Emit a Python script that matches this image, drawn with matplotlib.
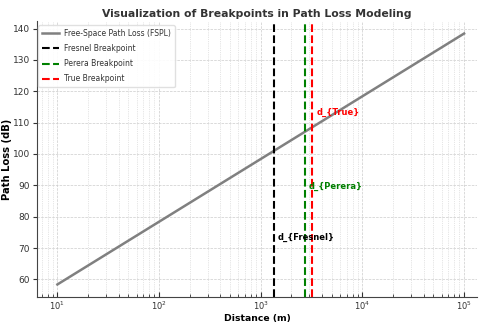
import matplotlib
matplotlib.use("Agg")
import matplotlib.pyplot as plt

# free-space path loss at each decade of distance
distance = [10, 100, 1000, 10000, 100000]
fspl = [58.4, 78.4, 98.4, 118.4, 138.4]

# breakpoints (m)
bp_names = ["Fresnel", "Perera", "True"]
bp_dist = [1340, 2700, 3220]
bp_colors = ["black", "green", "red"]
bp_label_y = [73.5, 89.5, 113.2]

fig = plt.figure(figsize=(4.8, 3.23), dpi=100)
ax = fig.add_axes([37 / 480, 26 / 323, 440 / 480, 276 / 323])

ax.plot(distance, fspl, color="gray", lw=1.8, label="Free-Space Path Loss (FSPL)")
for name, d, c, ty in zip(bp_names, bp_dist, bp_colors, bp_label_y):
    ax.axvline(d, color=c, ls="--", lw=1.5, label=f"{name} Breakpoint")
    ax.text(d * 1.1, ty, "d_{" + name + "}", color=c, fontsize=6,
            fontweight="bold", va="center", ha="left")

ax.set_xscale("log")
ax.set_xlim(6.3, 1.34e5)
ax.set_ylim(54.4, 142.4)

ax.set_title("Visualization of Breakpoints in Path Loss Modeling",
             fontsize=7.8, fontweight="bold", color="#333333", pad=3)
ax.set_xlabel("Distance (m)", fontsize=6.7, fontweight="bold", labelpad=1)
ax.set_ylabel("Path Loss (dB)", fontsize=7.2, fontweight="bold")
ax.yaxis.set_label_coords(-0.057, 0.5)

ax.grid(True, which="major", ls="--", lw=0.5, color="#cccccc")
ax.grid(True, which="minor", ls=":", lw=0.5, color="#cccccc")
for s in ["top", "right"]:
    ax.spines[s].set_visible(False)
ax.spines["left"].set_color("#444444")
ax.spines["bottom"].set_color("#444444")
ax.tick_params(axis="x", which="both", direction="in", labelsize=6, pad=2,
               colors="#333333")
ax.tick_params(axis="y", labelsize=6.5, pad=2, length=3, colors="#333333")

ax.legend(loc="upper left", bbox_to_anchor=(0.003, 0.985), borderaxespad=0,
          fontsize=5.5, framealpha=0.9, edgecolor="#dddddd",
          handlelength=2.2, handletextpad=0.65, labelspacing=0.8,
          borderpad=0.5, labelcolor="#333333")

plt.savefig("out.png", dpi=100)
